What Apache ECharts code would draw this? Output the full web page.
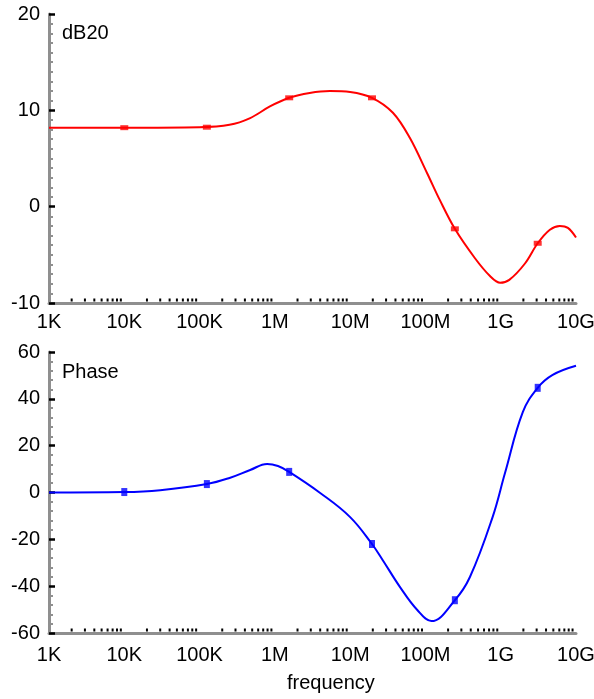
<!DOCTYPE html>
<html>
<head>
<meta charset="utf-8">
<script src="https://cdn.jsdelivr.net/npm/echarts@6/dist/echarts.min.js"></script>
<style>
html, body {margin: 0; padding: 0; background: #fff;}
#chart {width: 594px; height: 699px;}
</style>
</head>
<body>
<div id="chart"></div>
<script>
// gain curve (dB20)
const db_freq = [1e3, 1e4, 1e5, 2.5e5, 4.7e5, 8.6e5, 1.55e6, 2.9e6, 5.4e6, 1e7, 1.95e7, 3.7e7, 6.2e7, 1.05e8, 1.55e8, 2.46e8, 4.5e8, 7.2e8, 9.8e8, 1.3e9, 2.1e9, 3.1e9, 4.5e9, 6.1e9, 7.8e9, 1e10];
const db_values = [8.2, 8.2, 8.25, 8.5, 9.2, 10.4, 11.3, 11.8, 12.0, 11.9, 11.3, 9.75, 7.15, 3.5, 0.7, -2.3, -5.3, -7.2, -7.9, -7.6, -5.9, -3.8, -2.4, -2.0, -2.2, -3.2];

// phase curve
const phase_freq = [1e3, 1e4, 3e4, 1.25e5, 2.5e5, 4.7e5, 7.9e5, 1.1e6, 1.55e6, 4e6, 1e7, 1.95e7, 2.7e7, 4.6e7, 7.8e7, 1.2e8, 2.46e8, 3.9e8, 7.8e8, 1.14e9, 1.97e9, 3.1e9, 4.9e9, 1e10];
const phase_values = [0, 0.2, 1.0, 3.6, 6.2, 9.6, 12.2, 11.3, 8.8, -0.2, -10.5, -22, -28.8, -40.4, -50.2, -54.9, -46, -36.1, -10.5, 8.3, 34.4, 44.7, 50.2, 54.1];

// square markers on the curves
const marker_freq = [1e4, 1.25e5, 1.55e6, 1.95e7, 2.46e8, 3.1e9];
const db_marker_values = [8.2, 8.25, 11.3, 11.3, -2.3, -3.8];
const phase_marker_values = [0.2, 3.6, 8.8, -22, -46, 44.7];

const freq_labels = ["1K", "10K", "100K", "1M", "10M", "100M", "1G", "10G"];

const FONT = "Liberation Sans";
const GRAY = "#8f8f8f";

// x minor ticks: 2..9 in each decade
const minor_ticks = [];
for (let d = 3; d < 10; d++) {
    for (let m = 2; m <= 9; m++) minor_ticks.push(m * Math.pow(10, d));
}

const pairs = (xs, ys) => xs.map((x, i) => [x, ys[i]]);

function xAxisFor(grid, margin){
    return {
        type: 'log', logBase: 10, gridIndex: grid,
        min: 1e3, max: 1e10, interval: 1, splitNumber: 7,
        axisLine: {onZero: false, lineStyle: {color: GRAY, width: 3}},
        axisTick: {show: false},
        splitLine: {show: false},
        axisLabel: {
            fontFamily: FONT, fontSize: 20, color: '#000', margin: margin,
            formatter: (v) => freq_labels[Math.round(Math.log10(v)) - 3]
        }
    };
}

function yAxisFor(grid, min, max, step, minorSplit){
    return {
        type: 'value', gridIndex: grid, min: min, max: max, interval: step,
        axisLine: {show: true, lineStyle: {color: GRAY, width: 3}},
        axisTick: {show: true, inside: true, length: 6, lineStyle: {color: '#000', width: 2.5}},
        minorTick: {show: true, splitNumber: minorSplit, length: 4, lineStyle: {color: GRAY, width: 2}},
        splitLine: {show: false},
        axisLabel: {fontFamily: FONT, fontSize: 20, color: '#000', margin: 9}
    };
}

function minorTickSeries(axis, yval){
    return {
        type: 'custom', xAxisIndex: axis, yAxisIndex: axis, silent: true,
        data: minor_ticks.map((f) => [f, yval]),
        renderItem: (params, api) => {
            const p = api.coord([api.value(0), api.value(1)]);
            return {type: 'rect', shape: {x: p[0] - 1, y: p[1] - 4.5, width: 2, height: 3}, style: {fill: '#000'}};
        }
    };
}

const chart = echarts.init(document.getElementById('chart'), null, {renderer: 'canvas'});
chart.setOption({
    animation: false,
    grid: [
        {left: 49, right: 18, top: 14, height: 289, containLabel: false, outerBoundsMode: 'none'},
        {left: 49, right: 18, top: 352, height: 281, containLabel: false, outerBoundsMode: 'none'}
    ],
    xAxis: [xAxisFor(0, 9), xAxisFor(1, 12)],
    yAxis: [yAxisFor(0, -10, 20, 10, 10), yAxisFor(1, -60, 60, 20, 5)],
    graphic: [
        {type: 'text', left: 62, top: 23, style: {text: 'dB20', font: '20px "Liberation Sans"', fill: '#000'}},
        {type: 'text', left: 62, top: 362, style: {text: 'Phase', font: '20px "Liberation Sans"', fill: '#000'}},
        {type: 'text', left: 287, top: 673, style: {text: 'frequency', font: '20px "Liberation Sans"', fill: '#000'}}
    ],
    series: [
        {
            type: 'line', xAxisIndex: 0, yAxisIndex: 0, data: pairs(db_freq, db_values),
            smooth: 0.35, showSymbol: false, lineStyle: {color: '#ff0000', width: 2}
        },
        {
            type: 'scatter', xAxisIndex: 0, yAxisIndex: 0, data: pairs(marker_freq, db_marker_values),
            symbol: 'rect', symbolSize: [8, 5], itemStyle: {color: '#ff0000'}
        },
        {
            type: 'line', xAxisIndex: 1, yAxisIndex: 1, data: pairs(phase_freq, phase_values),
            smooth: 0.4, showSymbol: false, lineStyle: {color: '#0000ff', width: 2}
        },
        {
            type: 'scatter', xAxisIndex: 1, yAxisIndex: 1, data: pairs(marker_freq, phase_marker_values),
            symbol: 'rect', symbolSize: [6, 8], itemStyle: {color: '#0000ff'}
        },
        minorTickSeries(0, -10),
        minorTickSeries(1, -60)
    ]
});
</script>
</body>
</html>
